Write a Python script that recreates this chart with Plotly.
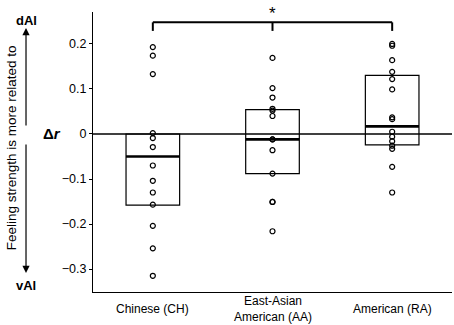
import plotly.graph_objects as go

# ---- data ----
categories = ["Chinese (CH)", "East-Asian<br>American (AA)", "American (RA)"]
cat_pos = [1, 2, 3]

ch_values = [0.193, 0.174, 0.133, 0.002, -0.009, -0.029, -0.070, -0.104, -0.130,
             -0.157, -0.204, -0.254, -0.315]
aa_values = [0.169, 0.102, 0.081, 0.056, 0.052, 0.040, -0.012, -0.012, -0.036,
             -0.088, -0.151, -0.151, -0.216]
ra_values = [0.200, 0.196, 0.164, 0.138, 0.122, 0.099, 0.037, 0.033, 0.005, -0.006,
             -0.016, -0.026, -0.033, -0.073, -0.130]

box_q1 = [-0.158, -0.088, -0.024]
box_median = [-0.050, -0.012, 0.017]
box_q3 = [0.0, 0.054, 0.130]
box_half_width = 0.224

bracket_y = 0.248
bracket_tick_y = 0.229

y_tickvals = [-0.3, -0.2, -0.1, 0, 0.1, 0.2]
y_ticktext = ["\u22120.3", "\u22120.2", "\u22120.1", "0", "0.1", "0.2"]

FONT = "Arial, Liberation Sans, sans-serif"

fig = go.Figure()

shapes = []
# boxes
for x, q1, med, q3 in zip(cat_pos, box_q1, box_median, box_q3):
    shapes.append(dict(type="rect", xref="x", yref="y",
                       x0=x - box_half_width, x1=x + box_half_width, y0=q1, y1=q3,
                       line=dict(color="black", width=1.2), layer="below"))
    shapes.append(dict(type="line", xref="x", yref="y",
                       x0=x - box_half_width, x1=x + box_half_width, y0=med, y1=med,
                       line=dict(color="black", width=2.6), layer="below"))
# zero line
shapes.append(dict(type="line", xref="paper", yref="y", x0=0, x1=1, y0=0, y1=0,
                   line=dict(color="black", width=1.6), layer="below"))
# significance bracket
shapes.append(dict(type="line", xref="x", yref="y", x0=cat_pos[0], x1=cat_pos[2],
                   y0=bracket_y, y1=bracket_y, line=dict(color="black", width=2)))
for x in cat_pos:
    shapes.append(dict(type="line", xref="x", yref="y", x0=x, x1=x,
                       y0=bracket_tick_y, y1=bracket_y, line=dict(color="black", width=2)))

for x, vals in zip(cat_pos, [ch_values, aa_values, ra_values]):
    fig.add_trace(go.Scatter(
        x=[x] * len(vals), y=vals, mode="markers",
        marker=dict(symbol="circle-open", size=5, color="black", line=dict(width=1.2)),
        showlegend=False, hoverinfo="y"))

annotations = []
for x, lab in zip(cat_pos, categories):
    annotations.append(dict(x=x, xref="x", y=-0.0607, yref="paper", text=lab,
                            showarrow=False, yanchor="middle", xanchor="center",
                            font=dict(size=12, color="black", family=FONT)))
annotations += [
    dict(x=cat_pos[1], xref="x", y=0.995, yref="paper", text="*", showarrow=False,
         yanchor="middle", xanchor="center", font=dict(size=17, color="black", family=FONT)),
    dict(x=-0.114, xref="paper", y=0, yref="y", text="<b>\u0394<i>r</i></b>",
         xanchor="center", yanchor="middle",
         showarrow=False, font=dict(size=15, color="black", family=FONT)),
    dict(x=-0.228, xref="paper", y=0.514, yref="paper",
         text="Feeling strength is more related to", textangle=-90,
         xanchor="center", yanchor="middle",
         showarrow=False, font=dict(size=13.5, color="black", family=FONT)),
    dict(x=-0.1866, xref="paper", y=0.971, yref="paper", text="<b>dAl</b>",
         xanchor="center", yanchor="middle",
         showarrow=False, font=dict(size=13, color="black", family=FONT)),
    dict(x=-0.1866, xref="paper", y=0.025, yref="paper", text="<b>vAl</b>",
         xanchor="center", yanchor="middle",
         showarrow=False, font=dict(size=13, color="black", family=FONT)),
    dict(x=-0.1866, xref="paper", y=0.943, yref="paper", text="", showarrow=True,
         ax=0, ay=99, axref="pixel", ayref="pixel", arrowhead=2, arrowsize=1.2,
         arrowwidth=1.2, arrowcolor="black"),
    dict(x=-0.1866, xref="paper", y=0.068, yref="paper", text="", showarrow=True,
         ax=0, ay=-130, axref="pixel", ayref="pixel", arrowhead=2, arrowsize=1.2,
         arrowwidth=1.2, arrowcolor="black"),
]

fig.update_layout(
    width=454, height=325,
    margin=dict(l=93, r=2, t=12, b=33, autoexpand=False),
    paper_bgcolor="white", plot_bgcolor="white",
    font=dict(family=FONT, color="black", size=12),
    shapes=shapes, annotations=annotations,
    xaxis=dict(range=[0.5, 3.5], showgrid=False, zeroline=False, showline=True,
               linecolor="black", linewidth=1.2, showticklabels=False, ticks="",
               fixedrange=True, automargin=False),
    yaxis=dict(range=[-0.351, 0.271], showgrid=False, zeroline=False, showline=True,
               linecolor="black", linewidth=1.2, tickvals=y_tickvals, ticktext=y_ticktext,
               ticks="outside", ticklen=3, tickcolor="black", automargin=False,
               tickfont=dict(size=12.5, color="black", family=FONT)),
)

fig.write_html("out.html", config={"displayModeBar": False},
               post_script="document.body.style.margin='0px';document.body.style.overflow='hidden';")
